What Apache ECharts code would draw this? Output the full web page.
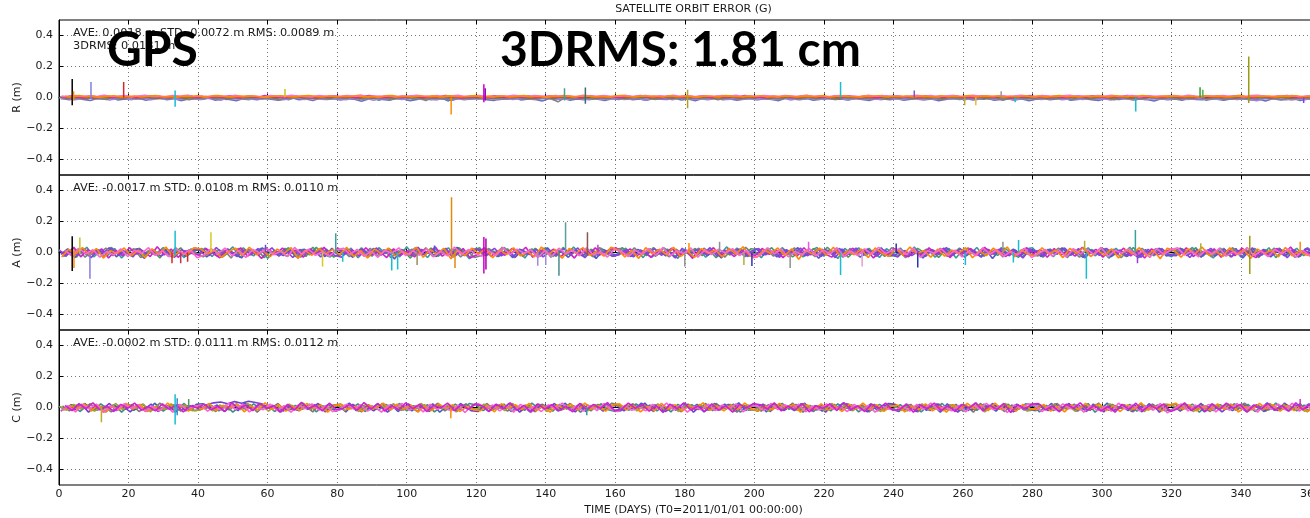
<!DOCTYPE html>
<html>
<head>
<meta charset="utf-8">
<script src="https://cdn.jsdelivr.net/npm/echarts@6/dist/echarts.min.js"></script>
<style>
  html, body { margin: 0; padding: 0; background: #fff; overflow: hidden; }
  /* the day axis runs past the right edge of the page */
  #chart { width: 1400px; height: 518px; }
</style>
</head>
<body>
<div id="chart"></div>
<script>
// Orbit error traces, one value every STEP_DAYS days, in millimetres.
const STEP_DAYS = 2;

// ---- Radial (R) ----
const rTeal = [
  -2,4,-6,1,-9,3,-4,6,-1,-7,2,-3,5,-8,0,-5,3,-10,1,-4,
  2,-6,4,-3,-12,1,-5,3,-8,0,5,-4,-1,-15,2,-6,4,-2,-9,1,
  -3,5,-7,0,-4,3,-18,-2,4,-6,1,-9,-3,6,-5,-1,-22,2,-4,0,
  3,-5,-1,4,-8,2,-3,-11,1,-6,5,-2,-7,0,-4,3,-9,-1,4,-5,
  -2,3,-7,1,-4,6,-10,-1,2,-5,4,-3,-8,0,5,-6,-2,3,-4,1,
  -5,2,-1,-9,4,-3,0,-6,3,-2,-12,1,-4,5,-7,-1,2,-3,-8,4,
  0,-4,3,-7,1,-2,5,-9,-1,4,-6,2,-3,-11,0,3,-5,1,-8,-2,
  4,-3,-9,1,-5,2,-1,-6,3,-14,0,-4,5,-2,-8,1,-3,4,-7,0,
  -4,2,-6,-1,3,-18,-3,1,-5,4,-2,-9,0,-4,3,-6,1,-3,-7,2,
  -1,-5,3
];
const rSlate = [
  -8,-15,-4,-12,-19,-6,-11,-2,-16,-9,-13,-5,-18,-10,-3,-14,-7,-20,-11,-6,
  -13,-3,-17,-9,-12,-21,-6,-10,-15,-4,-11,-18,-8,-2,-14,-10,-19,-5,-12,-8,
  -16,-7,-11,-24,-9,-4,-13,-17,-6,-10,-20,-12,-3,-15,-8,-11,-18,-6,-13,-9,
  -5,-14,-19,-8,-11,-3,-16,-10,-13,-22,-7,-12,-4,-17,-9,-14,-6,-11,-19,-8,
  -12,-4,-15,-9,-18,-6,-11,-13,-3,-16,-10,-21,-7,-12,-5,-14,-9,-17,-11,-6,
  -15,-8,-12,-20,-5,-10,-14,-7,-18,-11,-3,-13,-9,-16,-6,-12,-19,-8,-10,-15,
  -7,-17,-11,-4,-14,-9,-21,-12,-6,-13,-8,-16,-10,-5,-18,-12,-7,-14,-9,-20,
  -11,-6,-15,-10,-3,-17,-12,-8,-14,-19,-6,-11,-13,-5,-16,-9,-12,-22,-8,-14,
  -10,-17,-7,-12,-15,-4,-11,-18,-9,-13,-6,-16,-10,-23,-8,-12,-15,-7,-19,-11,
  -9,-14,-6
];
const rPurple = [
  -10,-4,-14,-7,-2,-11,-6,-16,-8,-3,-12,-9,-5,-15,-7,-10,-4,-13,-6,-9,
  -12,-5,-8,-17,-3,-10,-7,-14,-6,-11,-4,-9,-15,-8,-2,-12,-6,-10,-13,-5,
  -9,-14,-4,-11,-7,-18,-6,-10,-3,-13,-8,-5,-12,-9,-16,-4,-10,-7,-14,-6,
  -11,-3,-9,-15,-6,-12,-8,-4,-13,-10,-5,-16,-7,-11,-3,-9,-14,-6,-12,-8,
  -5,-13,-10,-4,-17,-7,-11,-6,-14,-3,-9,-12,-8,-15,-5,-10,-13,-4,-11,-7,
  -14,-6,-9,-12,-4,-16,-8,-11,-5,-13,-7,-10,-3,-15,-9,-6,-12,-8,-14,-4,
  -10,-13,-5,-9,-16,-7,-12,-4,-11,-8,-14,-6,-10,-3,-13,-9,-5,-17,-8,-11,
  -6,-12,-9,-4,-14,-10,-7,-13,-5,-11,-8,-16,-4,-10,-12,-6,-15,-9,-7,-13,
  -8,-4,-13,-10,-6,-15,-9,-12,-5,-11,-7,-14,-20,-10,-6,-12,-8,-16,-9,-11,
  -7,-13,-5
];
const rGray = [
  2,-6,-1,-9,3,-4,-12,0,-7,4,-3,-10,1,-5,-2,-8,5,-6,-14,-1,
  -4,3,-9,-2,-6,1,-11,-3,2,-7,-1,-16,0,-5,3,-8,-2,-4,-10,1,
  -6,0,-3,-9,2,-5,-1,-13,-4,3,-7,-2,-20,0,-6,-3,-9,1,-5,-2,
  -8,1,-4,-11,-2,2,-6,-3,-10,0,-5,-28,-1,-7,3,-4,-9,-2,-6,0,
  -3,-8,2,-5,-1,-12,-4,1,-7,-3,-9,0,-6,-2,-15,-4,2,-8,-1,-5,
  1,-7,-3,-10,0,-4,-6,2,-9,-2,-5,-13,-1,-7,3,-4,-8,-2,-11,0,
  -5,-1,-9,2,-6,-3,-12,0,-4,-8,1,-6,-2,-10,-3,-18,-5,0,-7,-2,
  -9,1,-4,-6,-2,-11,0,-5,-8,2,-3,-14,-1,-6,-4,-9,1,-5,-7,-2,
  -10,-1,-6,2,-4,-8,-3,-12,0,-5,-9,-2,-6,1,-4,-16,-3,-7,-1,-5,
  -2,-8,0
];
const rBrown = [
  3,-4,6,-2,1,-7,4,-1,5,-5,2,-3,7,0,-6,3,-2,5,-4,1,
  -3,6,-1,4,-6,2,-4,7,0,-2,5,-5,3,-1,6,-3,1,-7,4,-2,
  5,-1,3,-6,2,-4,6,0,-3,4,-2,7,-5,1,-4,3,-1,5,-6,2,
  -2,4,-5,1,6,-3,3,-1,-7,4,0,-4,5,-2,2,-6,6,-3,1,-1,
  4,-5,2,-2,7,-4,0,3,-6,5,-1,2,-3,6,-5,1,-2,4,-7,3,
  -1,5,-4,2,-2,6,-6,1,3,-3,4,-1,-5,7,0,-4,2,-2,5,-6,
  3,-2,6,-4,1,-1,4,-7,2,5,-3,0,6,-5,3,-2,1,-4,7,-1,
  -3,4,-6,2,0,5,-2,3,-5,1,6,-4,-1,4,-7,2,-3,5,0,-2,
  6,-4,1,-3,3,-6,5,-1,2,-5,4,0,-2,7,-4,1,3,-6,2,-1,
  4,-3,5
];
const rMagenta = [
  2,10,5,-1,8,4,12,1,6,9,3,-2,7,11,4,0,9,5,13,2,
  6,1,9,4,11,-1,5,8,2,12,6,3,-2,9,5,10,1,7,4,11,
  3,8,0,6,12,4,-1,9,5,2,10,7,1,8,4,13,6,-1,5,9,
  7,2,11,5,0,8,4,10,-2,6,9,3,12,5,1,7,10,2,8,4,
  0,9,5,12,3,7,-1,10,6,2,8,4,11,0,7,5,9,3,12,6,
  4,-2,8,5,10,1,7,12,3,6,0,9,5,11,2,8,4,-1,10,6,
  9,3,6,0,11,5,8,2,12,4,7,-1,9,6,3,10,1,8,5,13,
  2,7,4,10,-1,6,9,3,11,5,0,8,4,12,7,2,9,5,1,10,
  6,3,11,0,8,5,9,2,7,13,4,1,10,6,3,8,12,5,0,7,
  9,4,6
];
const rPink = [
  9,5,13,7,11,4,14,8,6,12,3,10,15,7,9,5,12,8,14,6,
  10,4,13,9,7,15,5,11,8,3,12,9,6,14,10,7,4,13,8,11,
  6,12,9,16,5,10,7,13,4,11,8,14,9,6,12,5,10,15,7,9,
  13,8,4,11,7,14,10,6,12,9,3,13,8,11,5,15,9,7,12,4,
  10,14,6,9,12,5,11,8,15,7,13,4,10,9,6,12,8,14,5,11,
  7,13,9,4,12,10,6,15,8,11,5,9,13,7,10,3,14,8,12,6,
  11,5,9,14,7,12,4,10,13,8,6,15,9,11,5,12,7,10,14,8,
  4,13,9,6,11,15,7,10,5,12,8,14,6,9,13,4,11,8,10,7,
  12,6,14,9,5,11,8,13,7,10,4,12,15,8,6,11,9,13,5,10,
  8,12,6
];
const rOrange = [
  8,3,12,5,9,2,7,11,4,6,10,3,8,13,5,7,2,9,6,11,
  4,8,12,6,3,9,7,10,5,2,8,11,6,4,9,13,7,3,10,5,
  8,6,11,4,7,2,9,12,5,8,3,10,6,9,4,11,7,5,8,12,
  3,9,6,10,4,7,12,5,8,2,9,6,11,4,8,10,5,7,3,9,
  12,6,4,10,7,8,3,11,5,9,6,2,10,8,4,12,7,5,9,6,
  11,3,8,6,10,4,7,9,5,12,3,8,10,6,4,9,7,11,5,8,
  6,10,4,9,7,3,11,5,8,6,12,4,9,7,10,3,8,5,11,6,
  9,4,7,12,5,8,3,10,6,9,4,11,7,5,8,13,6,3,9,7,
  10,5,8,4,11,6,9,3,7,12,5,8,6,10,4,9,7,11,5,8,
  6,9,4
];

// ---- Along-track (A) ----
const aTeal = [
  18,-25,30,-10,34,-28,12,-19,26,-35,8,22,-30,15,-9,32,-21,11,-33,24,
  -13,29,-26,18,-7,36,-31,9,-22,27,-38,14,-5,31,-27,20,-16,33,-11,-29,
  22,-15,28,-34,10,-24,31,-7,19,-28,37,-18,12,-32,26,-9,30,-22,16,-40,
  28,-12,21,-27,33,-5,15,-36,24,-17,31,-26,9,-20,35,-11,22,-31,27,-14,
  -24,32,-9,19,-33,26,-16,30,-3,-38,21,-13,28,-30,14,-22,36,-7,24,-27,
  12,-34,27,-18,31,-10,22,-29,7,33,-24,16,-39,26,-9,30,-20,14,-32,24,
  -7,29,-22,35,-14,18,-30,9,26,-36,20,-12,32,-25,10,-19,28,-5,-31,22,
  31,-16,12,-27,24,-33,18,-8,30,-21,14,-37,27,-12,34,-28,7,-18,24,-10,
  -27,20,-6,33,-24,14,-35,29,-12,22,-30,9,26,-18,31,-33,16,-4,27,-20,
  18,-26,12
];
const aGreen = [
  -20,14,-31,25,-8,19,-27,33,-12,6,-24,28,-17,11,-35,22,-5,30,-19,9,
  26,-11,17,-29,4,-22,31,-14,20,-33,8,-18,27,-6,15,-26,34,-10,21,-30,
  -9,23,-16,30,-28,12,-4,25,-21,17,-36,10,-13,29,-24,6,-18,32,-7,14,
  30,-20,9,-15,24,-34,18,-8,27,-12,5,-25,33,-17,11,-29,21,-3,16,-23,
  -14,28,-26,7,-19,32,-10,22,-30,13,-5,26,-21,18,-33,9,-16,29,-11,24,
  19,-7,31,-23,12,-28,4,-17,25,-13,34,-9,20,-31,15,-6,27,-24,10,-19,
  -25,11,-15,27,-4,20,-32,16,-9,29,-20,7,-26,22,-14,31,-11,18,-28,5,
  8,-30,23,-12,28,-18,13,-35,19,-5,24,-22,10,-27,32,-15,6,-21,26,-9,
  -17,25,-8,31,-24,16,-12,27,-29,11,-6,22,-33,18,-10,28,-20,14,-26,30,
  -13,21,-7
];
const aBlue = [
  -12,24,-33,8,-22,16,-6,31,-28,12,-18,26,-38,10,-14,20,-30,6,-24,18,
  14,-28,10,-18,24,-8,-35,20,-12,30,-24,6,-20,16,-31,22,-6,12,-26,28,
  -22,8,-31,18,-10,26,-18,12,-42,20,-8,30,-16,6,-26,22,-12,33,-20,10,
  20,-18,6,-26,16,-33,22,-10,12,-24,30,-16,8,-31,18,-22,12,-38,20,-6,
  -16,10,-26,20,-4,-30,14,-22,24,-12,6,-28,18,-20,10,-35,22,-14,8,-24,
  24,-18,10,-28,16,-6,31,-22,12,-37,18,-8,26,-16,6,-30,22,-12,30,-24,
  -14,8,-24,18,-35,12,-6,28,-20,10,-30,16,-12,24,-39,14,-8,22,-18,6,
  12,-26,20,-10,30,-18,8,-31,16,-6,24,-28,12,-20,6,-33,18,-12,28,-22,
  -10,28,-20,12,-30,18,-24,8,-16,26,-35,14,-6,20,-28,10,-22,16,-31,24,
  8,-18,14
];
const aGray = [
  5,-17,23,-30,12,-8,28,-21,16,-4,25,-33,9,-14,20,-26,31,-10,18,-6,
  -28,11,-22,15,-35,26,-9,21,-17,32,-12,7,-24,18,-30,13,-5,29,-20,10,
  16,-27,6,-13,27,-22,19,-34,11,-7,22,-16,30,-25,14,-11,20,-28,9,-32,
  -19,26,-12,34,-6,14,-26,20,-15,29,-31,17,-4,23,-18,10,-27,32,-9,21,
  25,-13,30,-17,19,-24,7,-29,21,-10,16,-22,28,-5,12,-30,18,-14,33,-7,
  -11,21,-24,13,-16,31,-19,9,-27,22,-5,17,-31,26,-13,20,-8,15,-25,30,
  14,-33,18,-7,22,-12,27,-25,8,-17,31,-14,23,-6,19,-29,11,-20,26,-9,
  -23,16,-5,28,-19,11,-30,17,-11,26,-8,21,-34,14,-18,27,-7,24,-15,6,
  18,-9,24,-16,8,-29,13,-21,31,-6,19,-26,12,-17,28,-11,22,-32,10,-4,
  -20,27,-13
];
const aMagenta = [
  10,-16,34,-28,18,-8,24,-36,14,-20,31,-10,7,-26,37,-16,22,-31,12,-6,
  -18,26,-5,-34,20,-12,30,-24,8,-38,18,-14,28,-7,16,-30,24,-10,33,-20,
  28,-9,18,-22,31,-14,7,-33,24,-18,12,-28,20,-5,36,-24,10,-16,26,-36,
  -14,31,-24,8,-18,26,-10,34,-31,16,-7,22,-28,12,-36,24,-16,30,-9,18,
  30,-12,24,-20,8,-31,18,-6,28,-24,14,-38,22,-10,31,-18,7,-26,16,-8,
  -20,26,-12,18,-33,10,-24,31,-16,22,-8,-30,14,-22,28,-6,20,-35,12,-18,
  24,-10,-28,16,-20,30,-14,24,-33,12,-5,26,-18,33,-12,20,-26,8,-22,31,
  -8,18,-31,26,-16,10,-24,33,-6,20,-30,14,-12,28,-22,16,-35,24,-14,8,
  22,-16,30,-26,12,-8,24,-31,18,-20,28,-5,-33,14,-18,26,-10,35,-24,12,
  -16,24,-8
];
const aPurple = [
  -26,8,-14,21,-33,16,-6,27,-19,11,-29,24,-9,17,-23,5,-31,19,-12,28,
  15,-20,32,-11,6,-27,18,-16,25,-7,30,-24,12,-32,20,-4,15,-28,9,-18,
  -31,17,-10,24,-19,29,-6,14,-26,8,-21,33,-15,20,-9,27,-30,11,-17,23,
  18,-6,27,-22,10,-30,15,-13,21,-28,7,-16,25,-11,30,-34,13,-20,8,-25,
  -12,20,-29,16,-7,24,-18,11,-35,27,-14,19,-8,31,-23,14,-5,22,-27,10,
  26,-15,9,-31,19,-10,28,-21,6,-26,15,-33,22,-12,29,-18,10,-24,17,-6,
  -29,13,-20,7,-25,18,-11,32,-16,23,-8,14,-30,19,-4,26,-21,12,-35,20,
  10,-23,17,-8,29,-14,25,-30,12,-19,27,-6,16,-25,9,-31,20,-13,24,-17,
  -21,15,-32,19,-11,26,-7,21,-28,13,-16,30,-24,8,-13,23,-34,17,-9,28,
  -15,22,-10
];
const aOrange = [
  -29,20,-9,32,-18,26,-36,12,-6,29,-22,16,-33,24,-12,35,-26,8,-17,30,
  24,-10,16,-31,7,28,-20,34,-14,10,-28,22,-5,31,-39,14,-18,26,-9,20,
  -16,33,-26,12,-35,22,-7,29,-24,9,-14,34,-31,18,-10,26,-40,16,-20,28,
  -8,24,-34,16,-14,30,-22,7,-28,35,-12,20,-37,26,-6,31,-18,10,-24,34,
  18,-28,12,-38,31,-10,22,-16,34,-26,8,-32,24,-5,18,-29,26,-12,37,-22,
  -31,16,-6,29,-20,24,-44,14,-10,28,-18,34,-24,8,-14,22,-33,30,-5,-26,
  26,-18,35,-9,12,-30,22,-24,16,-6,31,-34,10,-20,28,-14,36,-28,18,-12,
  -22,30,-10,16,-33,26,-5,34,-26,12,-16,24,-36,20,-9,31,-24,14,-40,28,
  14,-31,24,-10,35,-18,8,-26,30,-14,20,-38,22,-7,16,-28,33,-22,10,-16,
  -24,20,-12
];
const aPink = [
  12,-22,27,-9,18,-30,6,-15,24,-26,14,-5,31,-19,10,-28,22,-11,17,-34,
  -16,25,-7,29,-21,13,-32,19,-3,26,-14,9,-27,33,-10,21,-18,5,-25,16,
  28,-12,20,-25,8,-31,15,-6,30,-20,11,-17,24,-29,7,-22,35,-13,19,-8,
  -24,9,-19,32,-14,22,-5,17,-33,12,-26,28,-8,15,-21,31,-16,6,-29,20,
  7,-27,14,-11,26,-18,33,-24,10,-6,29,-31,16,-13,21,-4,25,-20,12,-34,
  -18,30,-9,23,-28,6,-15,27,-22,17,-10,31,-26,8,-19,24,-12,34,-7,13,
  22,-14,29,-31,11,-5,24,-18,16,-28,9,-21,30,-11,18,-25,7,-16,27,-33,
  -6,19,-23,12,-30,25,-9,20,-15,33,-26,14,-4,22,-19,10,-32,26,-13,17,
  30,-17,8,-28,15,-10,27,-23,5,-14,32,-20,11,-27,19,-8,24,-30,13,-21,
  9,-24,16
];

// ---- Cross-track (C) ----
const cTeal = [
  6,-14,18,-26,10,-20,24,-8,16,-30,12,-4,22,-18,8,-24,14,-10,26,-16,
  20,-8,12,-22,16,-30,8,-14,24,-10,18,-26,6,-20,14,-12,22,-28,10,-6,
  -20,14,-8,24,-26,10,-16,20,-4,26,-22,12,-10,18,-28,8,-14,22,-18,26,
  16,-20,8,-12,22,-26,6,-18,28,-8,14,-24,20,-10,12,-30,16,-6,24,-14,
  -26,8,-18,24,-10,16,-22,12,-28,20,-6,18,-14,26,-20,10,-8,22,-30,14,
  12,-24,18,-6,26,-12,20,-30,14,-16,8,-22,24,-10,18,-28,6,-14,20,-8,
  -6,18,-22,8,-28,14,-10,26,-16,20,-24,6,-18,22,-8,12,-26,16,-12,24,
  18,-28,14,-20,6,-12,22,-16,26,-30,10,-18,12,-8,20,-24,14,-10,16,-20,
  -14,16,-8,22,-30,12,-20,18,-10,24,-6,20,-26,10,-16,28,-12,8,-22,14,
  10,-16,20
];
const cGray = [
  10,-22,16,-6,24,-18,8,-28,14,-12,20,-26,6,-16,28,-10,18,-24,12,-20,
  -12,20,-26,10,-16,24,-8,18,-30,12,-6,26,-18,14,-22,8,-28,20,-10,16,
  22,-8,14,-28,18,-12,26,-20,10,-16,6,-24,18,-10,28,-22,12,-14,24,-6,
  -16,26,-10,18,-24,8,-20,14,-28,22,-8,16,-12,26,-18,6,-22,20,-14,28,
  18,-12,24,-6,12,-26,16,-20,8,-28,22,-14,10,-18,26,-8,20,-30,14,-10,
  -24,16,-8,22,-14,28,-20,10,-26,14,-6,20,-16,24,-10,18,-28,12,-22,26,
  8,-18,20,-28,14,-10,24,-16,18,-22,10,-30,26,-12,16,-6,22,-24,8,-14,
  -20,12,-16,26,-8,18,-24,14,-10,28,-18,20,-6,12,-28,24,-12,16,-22,10,
  24,-14,8,-20,18,-26,12,-8,22,-16,28,-10,14,-24,6,-18,20,-12,26,-28,
  16,-10,22
];
const cPurple = [
  -24,8,-16,20,-30,12,-10,26,-20,6,-28,16,-12,22,-26,10,-8,18,-22,14,
  -14,18,30,36,24,38,28,40,32,22,-6,14,-24,10,-18,20,-12,26,-28,8,
  12,-28,20,-14,8,-22,16,-30,10,-18,24,-8,14,-26,20,-12,6,-24,16,-20,
  -26,10,-18,16,-8,24,-30,12,-22,18,-10,26,-16,8,-28,20,-12,14,-24,10,
  14,-22,20,-12,28,-18,8,-26,16,-8,22,-30,12,-16,26,-10,20,-24,10,-18,
  -10,22,-26,12,-20,16,-8,28,-22,10,-30,18,-14,24,-6,12,-28,20,-16,26,
  20,-12,16,-26,10,-20,24,-8,14,-30,18,-16,10,-22,26,-10,18,-28,12,-20,
  -16,12,-20,24,-10,26,-24,8,-18,14,-28,20,-10,18,-26,12,-8,22,-30,16,
  10,-24,18,-12,26,-20,14,-28,8,-16,22,-10,18,-26,12,-20,28,-14,16,-8,
  -22,14,-18
];
const cBlue = [
  -14,18,-8,26,-20,12,-28,16,-6,22,-18,10,-24,28,-12,14,-30,8,-16,20,
  24,-10,16,-26,8,-20,30,-14,22,-8,14,-28,10,-18,26,-12,18,-6,20,-24,
  -8,28,-20,12,-14,22,-6,18,-26,10,-22,16,-12,24,-30,8,-16,26,-10,20,
  12,-24,18,-10,26,-16,8,-28,20,-6,14,-22,28,-12,18,-26,10,-8,22,-16,
  -22,10,-14,28,-8,18,-24,12,-18,26,-10,20,-28,6,-16,22,-12,30,-20,14,
  16,-28,22,-12,8,-20,26,-16,12,-24,18,-6,28,-18,10,-14,24,-22,16,-10,
  -26,14,-6,20,-18,10,-30,24,-12,16,-20,28,-8,14,-24,18,-10,22,-16,8,
  20,-12,26,-22,16,-8,12,-26,22,-14,28,-18,10,-20,14,-28,24,-6,18,-24,
  -6,20,-16,10,-28,22,-12,18,-20,8,-26,14,-8,30,-18,12,-22,16,-10,24,
  -16,26,-12
];
const cOlive = [
  6,-16,20,-10,14,-24,8,-18,26,-12,18,-6,22,-28,12,-14,24,-8,16,-20,
  -18,8,-22,16,-6,20,-14,26,-10,18,-24,12,-8,22,-16,28,-12,6,-20,14,
  14,-20,10,-26,22,-12,18,-6,24,-18,8,-14,26,-22,16,-8,20,-28,12,-10,
  -10,22,-16,8,-20,26,-12,16,-8,20,-26,10,-18,14,-6,24,-20,18,-14,8,
  20,-6,18,-22,14,-10,24,-18,10,-26,16,-12,20,-8,22,-16,12,-24,18,-14,
  -16,12,-24,20,-8,14,-18,22,-12,8,-20,26,-10,16,-22,10,-14,18,-26,12,
  10,-20,14,-8,24,-16,12,-22,18,-10,20,-6,16,-28,14,-12,26,-18,8,-20,
  -12,18,-10,22,-18,12,-24,8,-16,20,-14,24,-8,18,-20,12,-26,16,-10,22,
  16,-14,20,-26,10,-18,14,-8,24,-12,18,-22,12,-16,26,-10,20,-14,8,-24,
  -8,18,-14
];
const cOrange = [
  -18,12,-6,24,-22,16,-30,8,-14,26,-10,20,-26,6,-18,28,-8,14,-24,10,
  -10,26,-20,14,-4,22,-28,10,-16,30,-12,18,-24,8,-20,26,-6,16,-30,12,
  20,-12,8,-24,14,-6,28,-18,22,-10,16,-30,12,-20,24,-8,18,-26,6,-14,
  -20,14,-28,24,-6,18,-12,26,-22,10,-30,16,-8,22,-18,28,-10,12,-24,18,
  24,-16,12,-28,8,-20,26,-10,18,-24,14,-6,30,-18,10,-22,16,-12,28,-8,
  -22,10,-14,26,-6,20,-30,16,-10,24,-18,12,-26,20,-8,28,-14,18,-24,6,
  16,-28,10,-14,24,-22,8,-30,18,-12,26,-8,14,-20,28,-16,10,-24,20,-6,
  -12,20,-24,8,-28,18,-14,26,-6,22,-20,12,-26,16,-10,30,-18,8,-22,14,
  28,-10,16,-22,10,-18,24,-12,20,-28,6,-16,26,-8,18,-24,12,-20,6,-26,
  16,-12,22
];
const cPink = [
  -20,10,-28,16,-8,22,-32,12,-16,24,-6,18,-26,8,-22,14,-30,20,-10,6,
  16,-24,8,-18,26,-12,20,-28,6,-14,22,-20,12,-30,16,-8,24,-16,10,-26,
  -14,22,-10,18,-24,8,-30,14,-6,26,-18,12,-28,20,-12,6,-22,16,-32,10,
  24,-8,16,-22,10,-30,20,-14,6,-26,18,-10,28,-16,8,-24,14,-20,26,-12,
  -26,14,-18,6,-22,20,-10,28,-16,12,-30,8,-14,22,-20,16,-8,24,-28,10,
  12,-20,26,-14,18,-6,22,-28,10,-16,24,-12,6,-26,20,-18,14,-30,8,-10,
  -18,8,-24,20,-12,28,-16,6,-22,14,-28,18,-8,26,-14,10,-32,16,-6,22,
  14,-26,10,-16,24,-8,18,-30,12,-20,6,-24,28,-10,16,-22,8,-18,26,-34,
  -10,24,-22,16,-6,20,-28,10,-18,26,-14,8,-30,18,-12,22,-16,28,-24,12,
  -20,14,-26
];
const cMagenta = [
  14,-20,25,-8,30,-15,10,-26,20,-5,28,-18,6,-22,24,-12,18,-28,12,-4,
  22,-14,8,-25,30,-10,16,-20,26,-6,12,-30,20,-16,34,-8,14,-22,28,-12,
  -6,20,-18,32,-10,26,-24,12,-16,30,-8,22,-26,14,-4,28,-20,18,-12,24,
  10,-26,22,-8,30,-18,14,-30,24,-10,18,-22,8,-28,26,-14,20,-6,32,-20,
  -12,28,-6,20,-24,14,-32,22,-8,30,-16,10,-26,24,-18,12,-30,20,-4,26,
  18,-10,30,-22,8,-16,26,-28,12,-6,24,-20,32,-14,10,-26,22,-8,28,-18,
  -14,24,-30,16,-8,28,-20,12,-26,20,-4,30,-22,14,-12,26,-32,18,-10,22,
  26,-16,10,-28,22,-6,30,-18,14,-24,8,-30,20,-12,28,-22,16,-8,24,-26,
  -8,30,-20,12,-26,24,-14,28,-6,20,-30,16,-10,26,-18,12,-24,30,-14,20,
  -10,22,-16
];

// Isolated excursions: [day, low (m), high (m), colour]
const rSpikes = [
  [3.8, -0.05, 0.12, '#000000'], [4.2, -0.02, 0.04, '#ff8c00'],
  [9.2, -0.01, 0.10, '#8080e0'], [18.6, 0, 0.10, '#d62728'],
  [33.4, -0.06, 0.045, '#17becf'], [65, 0, 0.055, '#c8c020'],
  [112.8, -0.11, 0, '#ff8c00'], [122.2, -0.03, 0.085, '#cc00cc'],
  [122.6, -0.02, 0.06, '#a000c0'], [145.4, -0.02, 0.06, '#4a9a9a'],
  [151.4, -0.04, 0.065, '#3a6a7a'], [180.8, -0.07, 0.05, '#b0a020'],
  [224.8, 0, 0.10, '#17becf'], [246, 0, 0.045, '#7a5ac8'],
  [260.5, -0.05, 0, '#b0b030'], [263.7, -0.05, 0, '#e0c030'],
  [271, 0, 0.04, '#9a9a9a'], [275, -0.03, 0, '#17becf'],
  [309.7, -0.09, 0, '#17becf'], [328.2, 0, 0.066, '#2ca02c'],
  [329, 0, 0.05, '#50b050'], [342.2, -0.035, 0.265, '#9a9a10'],
  [358, -0.035, 0, '#8040e0']
];
const aSpikes = [
  [3.8, -0.12, 0.105, '#000000'], [4.3, -0.10, 0.02, '#ff8c00'],
  [6, -0.01, 0.097, '#c8c020'], [8.9, -0.17, 0, '#8a7ae0'],
  [33.4, -0.02, 0.14, '#17becf'], [32.5, -0.07, 0, '#d62728'],
  [35, -0.07, 0, '#c0305a'], [37, -0.06, 0, '#d62728'],
  [43.7, 0, 0.13, '#d8c820'], [59.4, 0, 0.05, '#6a4ad0'],
  [75.8, -0.09, 0, '#d8c820'], [79.6, -0.01, 0.125, '#3aa0a0'],
  [81.6, -0.06, 0, '#17becf'], [95.7, -0.116, 0, '#17becf'],
  [97.4, -0.11, 0, '#17becf'], [103, -0.08, 0, '#9a8a60'],
  [108, 0, 0.045, '#4060d0'], [112.9, -0.02, 0.357, '#e08a10'],
  [113.9, -0.10, 0, '#e08a10'], [122.2, -0.135, 0.10, '#cc00cc'],
  [122.8, -0.11, 0.09, '#aa00aa'], [137.7, -0.085, 0, '#a08ae0'],
  [140, -0.08, 0, '#a08ae0'], [143.8, -0.15, 0, '#4a8a8a'],
  [145.7, 0, 0.195, '#5aa0a0'], [152, -0.02, 0.13, '#8c564b'],
  [155, 0, 0.05, '#cc33cc'], [180, -0.09, 0, '#909090'],
  [181.2, 0, 0.062, '#ff8c00'], [190, 0, 0.07, '#909090'],
  [197, -0.08, 0, '#b0b040'], [199.3, -0.087, 0, '#3030c0'],
  [210.3, -0.10, 0, '#909090'], [215.6, 0, 0.07, '#e060e0'],
  [224.8, -0.145, 0, '#17becf'], [231, -0.09, 0, '#e0a0d0'],
  [240.8, 0, 0.058, '#3030c0'], [247, -0.097, 0, '#3030c0'],
  [260.7, -0.08, 0, '#17becf'], [271.5, 0, 0.07, '#909090'],
  [274.5, -0.065, 0, '#17becf'], [276, 0, 0.08, '#17becf'],
  [295, 0, 0.076, '#b0b030'], [295.5, -0.17, 0, '#17becf'],
  [309.6, 0, 0.145, '#3aa0a0'], [310.2, -0.07, 0, '#9a40d0'],
  [328.4, 0, 0.06, '#b0b030'], [342.5, -0.138, 0.108, '#9a9a10'],
  [357, 0, 0.07, '#ff8c00']
];
const cSpikes = [
  [12.2, -0.095, 0, '#b8b020'], [33.4, -0.11, 0.085, '#17becf'],
  [34, -0.05, 0.06, '#3a8ad0'], [37.3, 0, 0.055, '#4a9a5a'],
  [112.7, -0.07, 0, '#ff8c00'], [151.8, -0.05, 0, '#3a9a9a'],
  [357, 0, 0.055, '#cc33cc']
];

// Axis ticks
const xTickValues = [0, 20, 40, 60, 80, 100, 120, 140, 160, 180, 200, 220, 240, 260, 280, 300, 320, 340, 360];
const yTickValues = [-0.4, -0.2, 0, 0.2, 0.4];

// Panel text
const panelNames = ['R (m)', 'A (m)', 'C (m)'];
const panelStats = [
  'AVE: 0.0018 m STD: 0.0072 m RMS: 0.0089 m\n3DRMS: 0.0181 m',
  'AVE: -0.0017 m STD: 0.0108 m RMS: 0.0110 m',
  'AVE: -0.0002 m STD: 0.0111 m RMS: 0.0112 m'
];
const chartTitle = 'SATELLITE ORBIT ERROR (G)';
const xAxisTitle = 'TIME (DAYS) (T0=2011/01/01 00:00:00)';
const systemLabel = 'GPS';
const headlineLabel = '3DRMS: 1.81 cm';

// traces drawn in each panel, back to front
const panelBands = [
  [[rTeal, '#4a8f8a'], [rSlate, '#6a70c0'], [rPurple, '#a080e0'], [rGray, '#808080'],
   [rBrown, '#9a6a3a'], [rMagenta, '#e020c0'], [rPink, '#ff70c8'], [rOrange, '#ff8c00']],
  [[aTeal, '#3a9a9a'], [aGreen, '#4a9a5a'], [aBlue, '#5555cc'], [aGray, '#808080'],
   [aMagenta, '#cc22cc'], [aPurple, '#8a40e0'], [aOrange, '#ff8800'], [aPink, '#ff66cc']],
  [[cTeal, '#3c8c8c'], [cGray, '#7a7a7a'], [cPurple, '#7040d0'], [cBlue, '#4060c0'],
   [cOlive, '#a0a030'], [cOrange, '#ff8a00'], [cPink, '#ff60d0'], [cMagenta, '#d020d0']]
];
const traceOffsetsDays = [0, 1.0, 0.5, 1.5, 0.25, 1.25, 0.75, 1.75];
const panelSpikes = [rSpikes, aSpikes, cSpikes];

// ---- Layout ----
const PLOT_LEFT = 59, PLOT_WIDTH = 1269, PANEL_TOP = 20, PANEL_HEIGHT = 155;
const FONT = '"DejaVu Sans", sans-serif';
const TEXT_COLOR = '#1a1a1a';

const fmtY = v => (v < 0 ? '\u2212' : '') + Math.abs(v).toFixed(1);

const grids = [], xAxes = [], yAxes = [], series = [];
panelNames.forEach((name, p) => {
  grids.push({
    left: PLOT_LEFT, width: PLOT_WIDTH,
    top: PANEL_TOP + p * PANEL_HEIGHT, height: PANEL_HEIGHT,
    show: true, borderColor: '#000', borderWidth: 1, backgroundColor: 'transparent'
  });
  const isBottom = p === panelNames.length - 1;
  // bottom axis of the panel
  xAxes.push({
    type: 'value', gridIndex: p, position: 'bottom', min: 0, max: 365, interval: 20,
    axisLine: { show: true, lineStyle: { color: '#000', width: 1 } },
    axisTick: { show: true, inside: true, length: 4, customValues: xTickValues, lineStyle: { color: '#000' } },
    axisLabel: {
      show: isBottom, customValues: xTickValues, margin: 4,
      color: TEXT_COLOR, fontFamily: FONT, fontSize: 11
    },
    splitLine: { show: true, lineStyle: { color: '#777', width: 1, type: [1, 3] } },
    name: isBottom ? xAxisTitle : '', nameLocation: 'middle', nameGap: 20,
    nameTextStyle: { color: TEXT_COLOR, fontFamily: FONT, fontSize: 11 }
  });
  // top edge ticks
  xAxes.push({
    type: 'value', gridIndex: p, position: 'top', min: 0, max: 365, interval: 20,
    axisLine: { show: false },
    axisTick: { show: true, inside: true, length: 4, customValues: xTickValues, lineStyle: { color: '#000' } },
    axisLabel: { show: false }, splitLine: { show: false }
  });
  yAxes.push({
    type: 'value', gridIndex: p, min: -0.5, max: 0.5,
    axisLine: { show: true, lineStyle: { color: '#000', width: 1 } },
    axisTick: { show: true, inside: true, length: 4, customValues: yTickValues, lineStyle: { color: '#000' } },
    axisLabel: {
      customValues: yTickValues, formatter: fmtY, margin: 6,
      color: TEXT_COLOR, fontFamily: FONT, fontSize: 11
    },
    splitLine: { show: true, lineStyle: { color: '#777', width: 1, type: [1, 3] } },
    name: name, nameLocation: 'middle', nameRotate: 90, nameGap: 36, nameMoveOverlap: false,
    nameTextStyle: { color: TEXT_COLOR, fontFamily: FONT, fontSize: 11 }
  });

  panelBands[p].forEach(([values, color], k) => {
    const offset = traceOffsetsDays[k];
    series.push({
      type: 'line', xAxisIndex: p * 2, yAxisIndex: p,
      data: values.map((v, i) => [offset + i * STEP_DAYS, v / 1000]),
      showSymbol: false, symbol: 'none',
      lineStyle: { color: color, width: 1.6 }, z: 2, silent: true
    });
  });
  panelSpikes[p].forEach(([day, lo, hi, color]) => {
    series.push({
      type: 'line', xAxisIndex: p * 2, yAxisIndex: p,
      data: [[day, lo], [day, hi]],
      showSymbol: false, symbol: 'none',
      lineStyle: { color: color, width: 1.5 }, z: 3, silent: true
    });
  });
});

const graphic = [
  {
    type: 'text', x: PLOT_LEFT + PLOT_WIDTH / 2, y: 9, z: 100,
    style: { text: chartTitle, font: '11px ' + FONT, fill: TEXT_COLOR,
             align: 'center', verticalAlign: 'middle', textAlign: 'center', textVerticalAlign: 'middle' }
  }
];
panelStats.forEach((txt, p) => {
  graphic.push({
    type: 'text', x: 73, y: PANEL_TOP + p * PANEL_HEIGHT + 6.5, z: 100,
    style: { text: txt, font: '11.3px ' + FONT, fill: TEXT_COLOR, lineHeight: 13,
             align: 'left', verticalAlign: 'top', textAlign: 'left', textVerticalAlign: 'top' }
  });
});
graphic.push({
  type: 'text', x: 107, y: 51, z: 110,
  style: { text: systemLabel, font: 'bold 48px Lato, sans-serif', fill: '#000',
           align: 'left', verticalAlign: 'middle', textAlign: 'left', textVerticalAlign: 'middle' }
});
graphic.push({
  type: 'text', x: 500, y: 51, z: 110,
  style: { text: headlineLabel, font: 'bold 48px Lato, sans-serif', fill: '#000',
           align: 'left', verticalAlign: 'middle', textAlign: 'left', textVerticalAlign: 'middle' }
});

const chart = echarts.init(document.getElementById('chart'), null, { renderer: 'canvas' });
chart.setOption({
  animation: false,
  backgroundColor: '#fff',
  grid: grids,
  xAxis: xAxes,
  yAxis: yAxes,
  series: series,
  graphic: graphic
});
</script>
</body>
</html>
